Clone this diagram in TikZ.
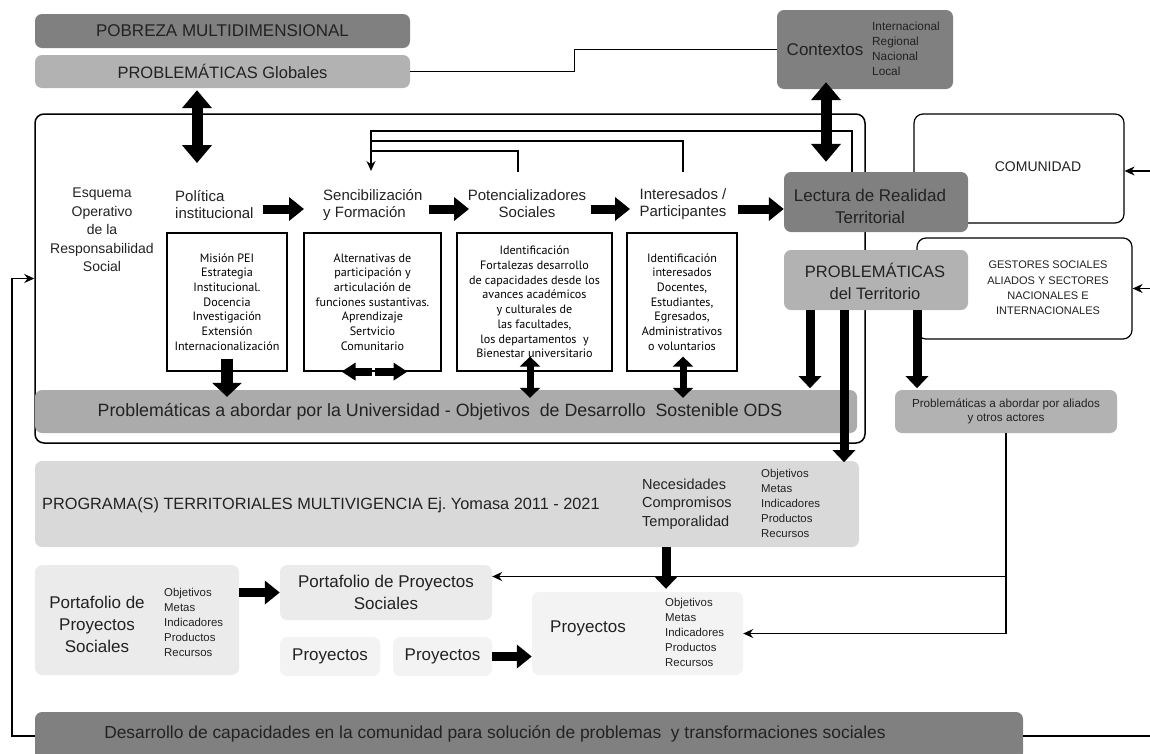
\documentclass[tikz,border=0pt]{standalone}
\usepackage{fontspec}
\setmainfont{Liberation Sans}
\newfontfamily\boxfont{PT Sans}
\usetikzlibrary{arrows.meta,calc}
\newcommand{\myfs}[2]{\fontsize{#1}{#2}\selectfont}
\definecolor{gdark}{HTML}{808080}
\definecolor{gmid}{HTML}{B2B2B2}
\definecolor{gods}{HTML}{ABABAB}
\definecolor{gprog}{HTML}{D9D9D9}
\definecolor{glight}{HTML}{EBEBEB}
\definecolor{gpale}{HTML}{F3F3F3}
\definecolor{txt}{HTML}{222222}
\begin{document}
\begin{tikzpicture}[x=1pt,y=-1pt,font=\myfs{15}{17},text=txt,
  sz/.style 2 args={minimum width=#1,minimum height=#2},
  gbox/.style={rounded corners=7pt,inner sep=0pt,align=center},
  darkbox/.style={gbox,fill=gdark},
  midbox/.style={gbox,fill=gmid},
  odsbox/.style={gbox,fill=gods},
  progbox/.style={gbox,fill=gprog},
  lightbox/.style={gbox,fill=glight},
  palebox/.style={gbox,fill=gpale},
  wbox/.style={draw=black,line width=1.2pt,fill=white,inner sep=0pt,align=center},
  wtext/.style={font=\boxfont\myfs{12.1}{14.7},text=black},
  lbl/.style={inner sep=0pt,align=center},
  lst/.style={inner sep=0pt,anchor=west,align=left,font=\myfs{11.4}{15}},
  conn/.style={line width=1.4pt,draw=black},
  thinarrow/.style={conn,-{Stealth[length=10pt,width=9pt]}},
  flowarrow/.style={line width=9pt,-{Triangle[length=15pt,width=23pt]}},
  bigdbl/.style={line width=11pt,{Triangle[length=18pt,width=29pt]}-{Triangle[length=18pt,width=29pt]}},
  downarrow/.style={line width=9pt,-{Triangle[length=12pt,width=22pt]}},
  boxarrow/.style={line width=12pt,-{Triangle[length=14pt,width=29pt]}},
  smalldbl/.style={line width=7pt,{Triangle[length=10pt,width=20pt]}-{Triangle[length=10pt,width=20pt]}},
  hsmall/.style={line width=8pt,-{Triangle[length=14pt,width=17pt]}}
]
\useasboundingbox (0,0) rectangle (1150,753);
\clip (0,0) rectangle (1150,753);

% ---------- top ----------
\node[darkbox,sz={375}{34},font=\myfs{17}{20}] (pobreza) at (222.5,31) {POBREZA MULTIDIMENSIONAL};
\node[midbox,sz={375}{33},font=\myfs{16.5}{20}] (probglob) at (222.5,71.5) {PROBLEMÁTICAS Globales};
\node[darkbox,sz={176}{79}] (contextos) at (865,49.5) {};
\node[lbl,font=\myfs{17}{20}] (ctxlabel) at (825,50) {Contextos};
\node[lst,font=\myfs{11.8}{15}] (ctxlist) at (872,48.5) {Internacional\\Regional\\Nacional\\Local};

% ---------- outer frame ----------
\node[draw=black,line width=1.5pt,rounded corners=9pt,sz={830}{329}] (outer) at (450,278.5) {};

% ---------- right boxes ----------
\node[wbox,rounded corners=9pt,sz={210}{109}] (comunidad) at (1019,168.5) {};
\node[lbl,font=\myfs{14}{16}] (comlabel) at (1038,167) {COMUNIDAD};
\node[wbox,rounded corners=9pt,sz={215}{101}] (gestores) at (1024.5,288.5) {};
\node[lbl,font=\myfs{11}{15.3}] (geslabel) at (1048,288) {GESTORES SOCIALES\\ALIADOS Y SECTORES\\NACIONALES E\\INTERNACIONALES};

\node[darkbox,sz={184}{60}] (lectura) at (876,202) {};
\node[lbl,font=\myfs{17}{22}] (leclabel) at (870,206) {Lectura de Realidad\\Territorial};
\node[midbox,sz={184}{60}] (probter) at (876,280) {};
\node[lbl,font=\myfs{16.5}{22}] (ptlabel) at (875,281) {PROBLEMÁTICAS\\del Territorio};

% ---------- flow labels ----------
\node[lbl,font=\myfs{14}{18.5}] (esquema) at (102,230) {Esquema\\Operativo\\de la\\Responsabilidad\\Social};
\node[lbl,anchor=west,align=left] (politica) at (175,205) {Política\\institucional};
\node[lbl,anchor=west,align=left] (sens) at (323,205) {Sencibilización\\y Formación};
\node[lbl] (pot) at (527,204) {Potencializadores\\Sociales};
\node[lbl] (inter) at (683,204) {Interesados /\\Participantes};

% ---------- white boxes ----------
\node[wbox,wtext,sz={120}{138}] (b1) at (227,302) {Misión PEI\\Estrategia\\Institucional.\\Docencia\\Investigación\\Extensión\\Internacionalización};
\node[wbox,wtext,sz={137}{138}] (b2) at (372.5,302) {Alternativas de\\participación y\\articulación de\\funciones sustantivas.\\Aprendizaje\\Sertvicio\\Comunitario};
\node[wbox,wtext,sz={155}{138}] (b3) at (534.5,302) {Identificación\\Fortalezas desarrollo\\de capacidades desde los\\avances académicos\\y culturales de\\las facultades,\\los departamentos\ \ y\\Bienestar universitario};
\node[wbox,wtext,sz={110}{138}] (b4) at (682,302) {Identificación\\interesados\\Docentes,\\Estudiantes,\\Egresados,\\Administrativos\\o voluntarios};

% ---------- ODS bar ----------
\node[odsbox,sz={822}{43}] (ods) at (446,411.5) {};
\node[lbl,font=\myfs{17.8}{20}] (odslabel) at (440,412) {Problemáticas a abordar por la Universidad - Objetivos\ \ de Desarrollo\ \ Sostenible ODS};

\node[midbox,sz={222}{43},font=\myfs{11.7}{14.5}] (aliados) at (1006,411.5) {Problemáticas a abordar por aliados\\y otros actores};

% ---------- programa ----------
\node[progbox,sz={824}{86}] (programa) at (447,504) {};
\node[lbl,anchor=west,font=\myfs{16.3}{20}] (proglabel) at (42,505) {PROGRAMA(S) TERRITORIALES MULTIVIGENCIA Ej.\ Yomasa 2011 - 2021};
\node[lbl,anchor=west,align=left,font=\myfs{14.5}{18.5}] (necs) at (642,504) {Necesidades\\Compromisos\\Temporalidad};
\node[lst] (proglist) at (761,503) {Objetivos\\Metas\\Indicadores\\Productos\\Recursos};

% ---------- portafolios / proyectos ----------
\node[lightbox,sz={204}{110}] (portleft) at (137,620) {};
\node[lbl,font=\myfs{17}{22}] (portlabel) at (97,624) {Portafolio de\\Proyectos\\Sociales};
\node[lst] (portlist) at (164,622) {Objetivos\\Metas\\Indicadores\\Productos\\Recursos};
\node[lightbox,sz={212}{55},font=\myfs{17}{22}] (portmid) at (386,592.5) {Portafolio de Proyectos\\Sociales};
\node[palebox,sz={100}{39},font=\myfs{17}{20}] (proya) at (330,656.5) {Proyectos};
\node[palebox,sz={99}{39},font=\myfs{17}{20}] (proyb) at (442.5,656.5) {Proyectos};
\node[palebox,sz={211}{83}] (proybig) at (637.5,633.5) {};
\node[lbl,font=\myfs{17}{20}] (pblabel) at (588,628) {Proyectos};
\node[lst] (pblist) at (665,632) {Objetivos\\Metas\\Indicadores\\Productos\\Recursos};

% ---------- bottom bar ----------
\node[darkbox,sz={988}{48}] (bottom) at (529,736) {};
\node[lbl,font=\myfs{17.4}{20}] (botlabel) at (495,734) {Desarrollo de capacidades en la comunidad para solución de problemas\ \ y transformaciones sociales};

% ---------- coordinates for free ends ----------
\coordinate (sensin) at (371,171);
\coordinate (potup) at (518,172);
\coordinate (interup) at (683,172);
\coordinate (f1a) at (263,209); \coordinate (f1b) at (304,209);
\coordinate (f2a) at (429,209); \coordinate (f2b) at (469,209);
\coordinate (f3a) at (591,209); \coordinate (f3b) at (630,209);
\coordinate (f4a) at (738,209);
\coordinate (politin) at (197,163);

% ---------- connectors ----------
\draw[conn] (probglob.east) -- ++(164,0) |- (contextos.west);
\draw[bigdbl] ($(probglob.south)+(-25.5,2)$) -- (politin);
\draw[bigdbl] ($(contextos.south)+(-39,-7)$) -- ($(lectura.north)+(-50,-10)$);

\draw[thinarrow] ($(lectura.north)+(-24,0)$) -- ++(0,-41) -| (sensin);
\draw[conn] (interup) |- ($(sensin)+(0,-30)$);
\draw[conn] (potup) |- ($(sensin)+(0,-20)$);

\draw[flowarrow] (f1a) -- (f1b);
\draw[flowarrow] (f2a) -- (f2b);
\draw[flowarrow] (f3a) -- (f3b);
\draw[flowarrow] (f4a) -- (lectura.west |- f4a);

\draw[boxarrow] ($(b1.south)+(0,-13)$) -- ($(ods.north -| b1.south)+(0,7)$);
\draw[hsmall] ($(b2.south)+(-1,0)$) -- ($(b2.south)+(-31,0)$);
\draw[hsmall] ($(b2.south)+(2,0)$) -- ($(b2.south)+(35,0)$);
\draw[smalldbl] ($(b3.south)+(-4.5,-15)$) -- ($(ods.north -| b3.south)+(-4.5,8)$);
\draw[smalldbl] ($(b4.south)+(1,-15)$) -- ($(ods.north -| b4.south)+(1,8)$);

\draw[downarrow] ($(probter.south)+(-66,0)$) -- ($(probter.south)+(-66,78)$);
\draw[downarrow] ($(probter.south)+(-32,0)$) -- ($(probter.south)+(-32,152)$);
\draw[downarrow] ($(probter.south)+(41,0)$) -- ($(probter.south)+(41,78)$);

\draw[thinarrow] ($(comunidad.east)+(30,2.5)$) -- ($(comunidad.east)+(0,2.5)$);
\draw[thinarrow] ($(gestores.east)+(20,0)$) -- (gestores.east);

\draw[thinarrow] (aliados.south) |- ($(portmid.east)+(0,-16)$);
\draw[thinarrow] (aliados.south) |- (proybig.east);

\draw[downarrow] ($(proybig.north)+(28.5,-45)$) -- ($(proybig.north)+(28.5,-3)$);
\draw[flowarrow] (portleft.east |- portmid.west) -- (portmid.west);
\draw[flowarrow] (proyb.east) -- (proyb.east -| proybig.west);

\draw[thinarrow] (bottom.west) -- ++(-23,0) |- (outer.west);
\draw[conn] (bottom.east) -- ++(140,0);
\end{tikzpicture}
\end{document}
